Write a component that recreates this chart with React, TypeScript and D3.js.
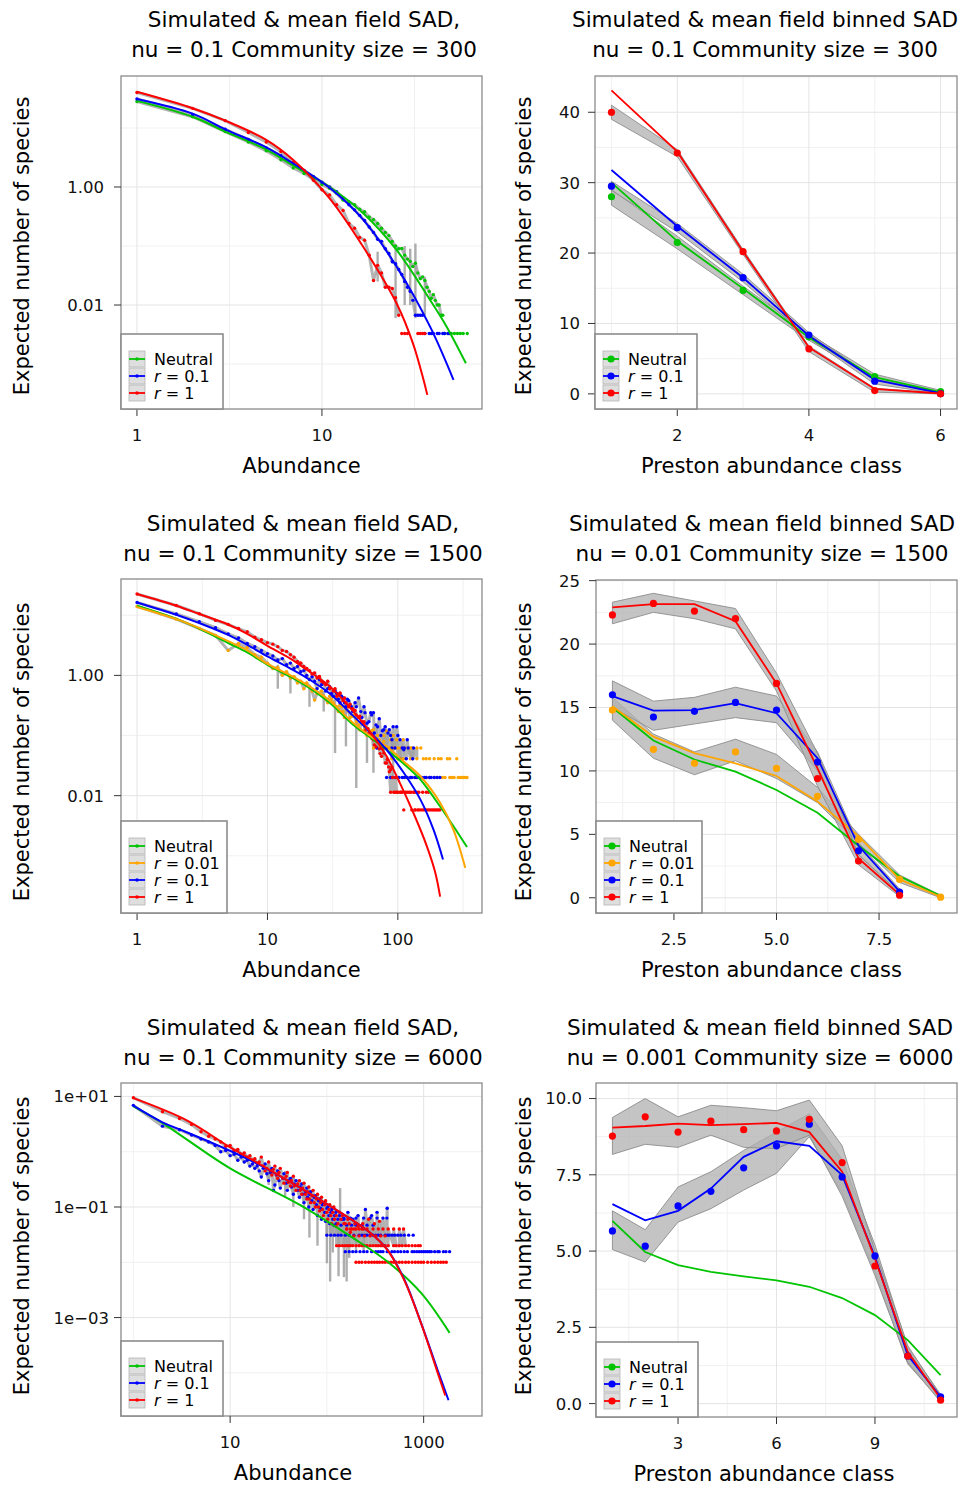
import React from 'react';
import * as d3 from 'd3';

type Pt = [number, number];

const FONT = "'DejaVu Sans', Verdana, sans-serif";
const GREEN = '#00c400';
const ORANGE = '#ffa500';
const BLUE = '#0000ff';
const RED = '#ff0000';

// ---------- A: SAD, nu = 0.1, community size 300 (log-log) ----------
const sadA_neutralMF: Pt[] = [[1, 28.8], [2, 15.5], [3, 8.7], [5, 4.3], [7, 2.3], [11, 1.0], [16.7, 0.36], [25.3, 0.086], [38.4, 0.0122], [47.2, 0.0043], [60, 0.00103]];
const sadA_r01MF: Pt[] = [[1, 31], [2, 17.5], [3, 9.5], [5, 4.7], [7, 2.5], [11, 0.97], [16.7, 0.28], [25.3, 0.045], [38.4, 0.0043], [51.4, 0.00054]];
const sadA_r1MF: Pt[] = [[1, 41], [2, 21.6], [3, 13.3], [5, 6.3], [7, 2.87], [11, 0.64], [16.7, 0.097], [25.3, 0.0107], [31.1, 0.0022], [35.4, 0.00054], [37.1, 0.0003]];
const sadA_neutralSim: Pt[] = [[1, 28], [2, 15.5], [3, 8.7], [4, 5.8], [5, 4.1], [6, 2.9], [7, 2.1], [8, 1.7], [9, 1.35], [10, 1.1], [11, 0.95], [12, 0.78], [13, 0.6], [14, 0.56], [15, 0.5], [16, 0.42], [17, 0.38], [18, 0.31], [19, 0.28], [20, 0.24], [21, 0.2], [22, 0.17], [23, 0.15], [24, 0.12], [25, 0.1], [26, 0.09], [27, 0.091], [28, 0.07], [29, 0.06], [30, 0.055], [31, 0.045], [32, 0.051], [33, 0.035], [34, 0.028], [35, 0.03], [36, 0.026], [37, 0.02], [38, 0.017], [39, 0.013], [40, 0.015], [41, 0.012], [42, 0.01], [43, 0.01], [44, 0.0067], [45, 0.0067], [46, 0.0033], [48, 0.0033], [50, 0.0033], [52, 0.0033], [54, 0.0033], [56, 0.0033], [58, 0.0033], [61, 0.0033]];
const sadA_r01Sim: Pt[] = [[1, 31], [2, 17], [3, 9.5], [4, 6.4], [5, 4.6], [6, 3.4], [7, 2.5], [8, 1.9], [9, 1.5], [10, 1.2], [11, 1.0], [12, 0.83], [13, 0.65], [14, 0.5], [15, 0.41], [16, 0.33], [17, 0.27], [18, 0.21], [19, 0.17], [20, 0.13], [21, 0.12], [22, 0.09], [23, 0.075], [24, 0.054], [25, 0.05], [26, 0.04], [27, 0.033], [28, 0.025], [29, 0.02], [30, 0.017], [31, 0.012], [32, 0.0067], [33, 0.0067], [34, 0.0067], [35, 0.0067], [36, 0.0033], [38, 0.0033], [39, 0.0033], [40, 0.0033], [42, 0.0033], [43, 0.0033], [45, 0.0033], [46, 0.0033], [48, 0.0033], [49, 0.0033]];
const sadA_r1Sim: Pt[] = [[1, 40], [2, 21.5], [3, 13.3], [4, 8.4], [5, 5.8], [6, 4.0], [7, 2.6], [8, 1.9], [9, 1.3], [10, 0.9], [11, 0.73], [12, 0.5], [13, 0.4], [14, 0.24], [15, 0.2], [16, 0.14], [17, 0.125], [18, 0.07], [19, 0.026], [20, 0.047], [21, 0.035], [22, 0.02], [23, 0.02], [24, 0.019], [25, 0.0133], [26, 0.0067], [27, 0.0033], [28, 0.0033], [29, 0.0033], [33, 0.0033], [34, 0.0033], [35, 0.0033], [36, 0.0033]];
const sadA_spikes: [number, number, number][] = [[20, 0.025, 0.08], [25, 0.006, 0.09], [28, 0.01, 0.1], [30, 0.01, 0.09], [32, 0.006, 0.11], [36, 0.0067, 0.03]];

// ---------- B: binned SAD, nu = 0.1, community size 300 ----------
const binB_class = [1, 2, 3, 4, 5, 6];
const binB_neutralMF = [30.0, 21.7, 14.95, 8.0, 2.36, 0.24];
const binB_neutralSim = [28.0, 21.5, 14.7, 8.1, 2.45, 0.33];
const binB_neutralLo = [26.8, 20.6, 14.1, 7.6, 2.1, 0.1];
const binB_neutralHi = [29.0, 22.4, 15.3, 8.5, 2.8, 0.5];
const binB_r01MF = [31.8, 23.8, 16.5, 8.25, 2.0, 0.1];
const binB_r01Sim = [29.5, 23.6, 16.5, 8.35, 1.8, 0.02];
const binB_r01Lo = [28.9, 23.0, 15.9, 7.9, 1.4, 0.0];
const binB_r01Hi = [30.2, 24.2, 17.0, 8.7, 2.1, 0.15];
const binB_r1MF = [43.1, 34.4, 20.2, 6.6, 0.7, 0.05];
const binB_r1Sim = [40.0, 34.2, 20.2, 6.4, 0.47, 0.0];
const binB_r1Lo = [39.0, 33.7, 19.8, 6.0, 0.24, 0.0];
const binB_r1Hi = [41.0, 34.7, 20.5, 6.8, 0.8, 0.1];

// ---------- C: SAD, nu = 0.1, community size 1500 (log-log) ----------
const sadC_neutralMF: Pt[] = [[1, 14.4], [2, 8.7], [3, 6.0], [5, 3.45], [7, 2.4], [10, 1.5], [15, 0.95], [20, 0.66], [30, 0.35], [45.7, 0.15], [65, 0.085], [82, 0.058], [111, 0.034], [149, 0.0185], [211, 0.0066], [267, 0.0031], [339, 0.0014]];
const sadC_r001MF: Pt[] = [[1, 13.7], [2, 8.6], [3, 6.1], [5, 3.7], [7, 2.6], [10, 1.55], [15, 1.0], [20, 0.7], [30, 0.38], [45.7, 0.16], [65, 0.09], [82, 0.066], [111, 0.037], [149, 0.021], [211, 0.0076], [267, 0.0027], [329, 0.00063]];
const sadC_r01MF: Pt[] = [[1, 16.3], [2, 10.2], [3, 7.4], [5, 4.7], [7, 3.2], [10, 2.07], [15, 1.3], [20, 0.91], [30, 0.5], [45.7, 0.21], [65, 0.1], [82, 0.058], [111, 0.024], [149, 0.0086], [188, 0.0027], [222, 0.00087]];
const sadC_r1MF: Pt[] = [[1, 22.5], [2, 14.4], [3, 10.5], [5, 7.0], [7, 4.9], [10, 3.1], [15, 1.9], [20, 1.24], [30, 0.66], [45.7, 0.25], [65, 0.097], [82, 0.045], [104, 0.016], [132, 0.0051], [167, 0.00144], [194, 0.00052], [211, 0.00021]];
const sadC_r001Sim: Pt[] = [[1, 14.0], [2, 8.6], [3, 6.0], [4, 4.6], [5, 2.6], [6, 3.4], [7, 2.9], [8, 2.2], [9, 2.0], [10, 1.6], [11, 1.3], [12, 1.35], [13, 1.0], [14, 1.15], [15, 0.9], [16, 0.95], [17, 0.75], [18, 0.8], [19, 0.6], [20, 0.75], [21, 0.65], [22, 0.55], [24, 0.5], [26, 0.55], [28, 0.4], [30, 0.45], [32, 0.35], [34, 0.3], [36, 0.32], [38, 0.25], [40, 0.28], [43, 0.2], [46, 0.22], [50, 0.15], [53, 0.17], [56, 0.13], [60, 0.1], [63, 0.12], [66, 0.09], [70, 0.1], [74, 0.062], [78, 0.08], [82, 0.062], [86, 0.062], [90, 0.041], [95, 0.062], [100, 0.041], [105, 0.062], [110, 0.041], [115, 0.02], [120, 0.062], [125, 0.041], [130, 0.041], [140, 0.02], [150, 0.062], [157, 0.041], [165, 0.02], [175, 0.041], [190, 0.02], [205, 0.041], [220, 0.02], [240, 0.041], [260, 0.02], [283, 0.041], [300, 0.02], [320, 0.02], [339, 0.02]];
const sadC_r001Extra: Pt[] = [[65, 0.062], [72, 0.062], [80, 0.062], [92, 0.062], [100, 0.062], [112, 0.062], [128, 0.062], [140, 0.062], [104, 0.041], [140, 0.041], [165, 0.041], [190, 0.041], [215, 0.041], [250, 0.041], [117, 0.02], [125, 0.02], [135, 0.02], [150, 0.02], [175, 0.02], [200, 0.02], [230, 0.02], [250, 0.02], [270, 0.02], [290, 0.02], [310, 0.02], [330, 0.02], [23, 0.39], [27, 0.45], [29, 0.35], [31, 0.4], [33, 0.31], [35, 0.25], [37, 0.3], [39, 0.2], [42, 0.25], [45, 0.21], [48, 0.17], [51, 0.125], [55, 0.16], [58, 0.1], [62, 0.11], [65, 0.125], [68, 0.08], [72, 0.085], [78, 0.1], [82, 0.118], [88, 0.085], [92, 0.1], [98, 0.085], [110, 0.085], [125, 0.062]];
const sadC_r01Sim: Pt[] = [[1, 16.3], [2, 10.5], [3, 7.8], [4, 6.2], [5, 4.9], [6, 4.2], [7, 3.4], [8, 3.0], [9, 2.6], [10, 2.3], [11, 2.1], [12, 1.8], [13, 1.9], [14, 1.5], [15, 1.6], [16, 1.3], [17, 1.4], [18, 1.15], [19, 1.2], [20, 1.0], [21, 0.85], [22, 0.95], [23, 0.8], [24, 0.6], [25, 0.85], [26, 0.7], [28, 0.55], [30, 0.65], [32, 0.45], [34, 0.5], [36, 0.35], [38, 0.42], [40, 0.3], [42, 0.38], [45, 0.25], [48, 0.3], [50, 0.42], [53, 0.2], [56, 0.24], [60, 0.17], [63, 0.22], [66, 0.11], [70, 0.14], [74, 0.1], [78, 0.125], [82, 0.062], [86, 0.125], [90, 0.085], [95, 0.062], [100, 0.1], [104, 0.041], [108, 0.062], [112, 0.02], [116, 0.041], [120, 0.062], [125, 0.02], [130, 0.041], [135, 0.02], [140, 0.02], [146, 0.02], [152, 0.02], [160, 0.02], [175, 0.02], [190, 0.02], [210, 0.02]];
const sadC_r01Extra: Pt[] = [[82, 0.02], [88, 0.02], [95, 0.02], [102, 0.02], [108, 0.02], [118, 0.02], [128, 0.02], [150, 0.02], [165, 0.02], [180, 0.02], [200, 0.02], [69, 0.062], [75, 0.062], [90, 0.062], [112, 0.062], [132, 0.062], [27, 0.75], [29, 0.6], [31, 0.5], [33, 0.55], [35, 0.4], [37, 0.45], [39, 0.35], [41, 0.4], [44, 0.3], [47, 0.35], [52, 0.25], [55, 0.3], [58, 0.16], [62, 0.24], [65, 0.24], [68, 0.15], [72, 0.19], [76, 0.12], [80, 0.14], [84, 0.11], [88, 0.1], [92, 0.14], [98, 0.14], [104, 0.085], [111, 0.058], [118, 0.085]];
const sadC_r1Sim: Pt[] = [[1, 22.5], [2, 14.5], [3, 10.6], [4, 8.2], [5, 7.0], [6, 6.0], [7, 5.3], [8, 4.3], [9, 3.9], [10, 3.5], [11, 3.3], [12, 3.0], [13, 2.6], [14, 2.5], [15, 2.2], [16, 2.0], [17, 1.7], [18, 1.6], [19, 1.4], [20, 1.3], [21, 1.2], [22, 1.05], [23, 1.1], [24, 0.9], [25, 0.95], [26, 0.8], [27, 0.75], [28, 0.7], [30, 0.6], [32, 0.55], [34, 0.45], [36, 0.5], [38, 0.38], [40, 0.35], [42, 0.3], [45, 0.28], [48, 0.22], [50, 0.2], [53, 0.17], [56, 0.12], [60, 0.11], [63, 0.09], [66, 0.07], [70, 0.08], [73, 0.05], [76, 0.06], [80, 0.035], [83, 0.04], [86, 0.025], [90, 0.03], [93, 0.0114], [96, 0.02], [100, 0.0114], [104, 0.0114], [108, 0.0114], [111, 0.0058], [114, 0.0114], [118, 0.0114], [122, 0.0114], [128, 0.0058], [132, 0.0114], [136, 0.0058], [140, 0.0114], [145, 0.0058], [150, 0.0058], [160, 0.0058], [170, 0.0058], [180, 0.0058], [190, 0.0058], [200, 0.0058], [210, 0.0058]];
const sadC_r1Extra: Pt[] = [[88, 0.0114], [98, 0.0114], [106, 0.0114], [126, 0.0114], [135, 0.0114], [145, 0.0114], [155, 0.0114], [165, 0.0114], [172, 0.0114], [135, 0.0058], [142, 0.0058], [155, 0.0058], [165, 0.0058], [175, 0.0058], [185, 0.0058], [195, 0.0058], [205, 0.0058], [18, 1.6], [25, 0.96], [29, 0.8], [33, 0.6], [36, 0.51], [39, 0.42], [43, 0.33], [47, 0.26], [51, 0.21], [55, 0.17], [59, 0.13], [62, 0.1], [65, 0.085], [68, 0.065], [72, 0.06], [75, 0.045], [78, 0.051], [82, 0.035], [85, 0.03], [88, 0.027], [91, 0.02], [95, 0.0114]];
const sadC_spikes: [number, number, number][] = [[12, 0.6, 1.5], [15, 0.5, 1.0], [21, 0.3, 0.7], [27, 0.25, 0.55], [33, 0.051, 0.4], [40, 0.066, 0.35], [48, 0.0134, 0.25], [58, 0.035, 0.16], [65, 0.024, 0.14], [69, 0.07, 0.15], [78, 0.045, 0.12], [92, 0.021, 0.09]];

// ---------- D: binned SAD, nu = 0.01, community size 1500 ----------
const binD_class = [1, 2, 3, 4, 5, 6, 7, 8, 9];
const binD_neutralMF = [15.0, 12.4, 10.9, 9.95, 8.5, 6.7, 4.1, 1.7, 0.15];
const binD_r001MF = [15.1, 12.7, 11.4, 10.6, 9.6, 7.6, 4.85, 1.45, 0.08];
const binD_r001Sim = [14.8, 11.7, 10.6, 11.5, 10.2, 8.0, 4.6, 1.45, 0.05];
const binD_r001Lo = [14.0, 11.0, 9.7, 10.8, 9.4, 7.5, 4.3, 1.2, 0.0];
const binD_r001Hi = [15.8, 12.9, 11.5, 12.5, 11.3, 8.7, 5.0, 1.8, 0.2];
const binD_r01MF = [15.9, 14.75, 14.8, 15.35, 14.55, 11.0, 4.1, 0.5];
const binD_r01Sim = [16.0, 14.25, 14.7, 15.4, 14.8, 10.7, 3.7, 0.45];
const binD_r01Lo = [15.0, 13.2, 13.7, 14.2, 13.8, 10.0, 3.4, 0.3];
const binD_r01Hi = [17.1, 15.5, 15.8, 16.6, 15.9, 11.5, 4.3, 0.7];
const binD_r1MF = [22.9, 23.15, 23.15, 21.8, 16.9, 10.2, 3.1, 0.25];
const binD_r1Sim = [22.3, 23.2, 22.6, 22.0, 16.9, 9.4, 2.9, 0.2];
const binD_r1Lo = [21.6, 22.5, 22.0, 21.2, 16.3, 8.8, 2.6, 0.1];
const binD_r1Hi = [23.3, 24.0, 23.4, 22.8, 17.7, 11.4, 3.4, 0.4];

// ---------- E: SAD, nu = 0.1, community size 6000 (log-log) ----------
const sadE_neutralMF: Pt[] = [[1, 6.6], [2, 3.3], [9.8, 0.51], [52, 0.11], [189, 0.027], [422, 0.0103], [940, 0.0028], [1855, 0.00053]];
const sadE_r01MF: Pt[] = [[1, 6.8], [2, 3.4], [3.45, 2.3], [17, 0.67], [85, 0.135], [282, 0.034], [422, 0.017], [628, 0.005], [940, 0.0008], [1400, 0.00011], [1808, 3.2e-5]];
const sadE_r1MF: Pt[] = [[1, 9.3], [3.45, 3.8], [10, 1.2], [17, 0.71], [85, 0.135], [282, 0.034], [422, 0.0168], [628, 0.0048], [940, 0.00079], [1372, 0.00011], [1672, 3.9e-5]];
const sadE_r01Sim: Pt[] = [[1, 6.9], [2, 2.9], [3, 2.5], [4, 2.0], [5, 1.7], [6, 1.5], [7, 1.3], [8, 1.0], [9, 1.05], [10, 0.85], [11, 0.9], [12, 0.7], [13, 0.8], [14, 0.65], [15, 0.7], [16, 0.55], [17, 0.6], [18, 0.5], [19, 0.55], [20, 0.45], [22, 0.5], [24, 0.4], [26, 0.42], [28, 0.2], [30, 0.38], [32, 0.3], [35, 0.33], [38, 0.27], [40, 0.3], [43, 0.23], [46, 0.26], [50, 0.2], [53, 0.23], [56, 0.17], [60, 0.19], [63, 0.15], [66, 0.17], [70, 0.13], [74, 0.15], [78, 0.11], [82, 0.13], [86, 0.095], [90, 0.11], [95, 0.08], [100, 0.095], [105, 0.07], [110, 0.08], [115, 0.06], [120, 0.07], [125, 0.05], [130, 0.06], [140, 0.047], [150, 0.06], [160, 0.047], [170, 0.031], [180, 0.047], [190, 0.031], [200, 0.047], [215, 0.031], [230, 0.047], [245, 0.031], [260, 0.047], [280, 0.031], [300, 0.047], [320, 0.031], [340, 0.0156], [360, 0.031], [380, 0.0156], [400, 0.031], [420, 0.095], [440, 0.031], [470, 0.0156], [500, 0.031], [540, 0.0156], [580, 0.031], [630, 0.0156], [700, 0.031], [760, 0.0156], [850, 0.0156], [950, 0.0156], [1050, 0.0156], [1150, 0.0156], [1300, 0.0156], [1450, 0.0156], [1600, 0.0156], [1855, 0.0156]];
const sadE_r01Extra: Pt[] = [[155, 0.0156], [170, 0.0156], [185, 0.0156], [200, 0.0156], [220, 0.0156], [240, 0.0156], [260, 0.0156], [290, 0.0156], [320, 0.0156], [360, 0.0156], [420, 0.0156], [500, 0.0156], [580, 0.0156], [680, 0.0156], [800, 0.0156], [900, 0.0156], [1000, 0.0156], [1100, 0.0156], [1200, 0.0156], [1400, 0.0156], [1700, 0.0156], [100, 0.031], [110, 0.031], [120, 0.031], [130, 0.031], [140, 0.031], [155, 0.031], [230, 0.031], [260, 0.031], [300, 0.031], [340, 0.031], [420, 0.031], [470, 0.031], [540, 0.031], [630, 0.031], [780, 0.031], [150, 0.063], [175, 0.063], [200, 0.063], [240, 0.063], [280, 0.063], [330, 0.063], [380, 0.063], [417, 0.063], [21, 0.35], [23, 0.6], [25, 0.3], [27, 0.5], [29, 0.25], [31, 0.45], [33, 0.22], [36, 0.4], [39, 0.2], [42, 0.33], [45, 0.17], [48, 0.3], [52, 0.15], [55, 0.26], [58, 0.12], [62, 0.22], [65, 0.1], [68, 0.19], [72, 0.09], [76, 0.16], [80, 0.07], [84, 0.14], [88, 0.06], [92, 0.12], [97, 0.055], [102, 0.1], [107, 0.05], [112, 0.09], [118, 0.047], [124, 0.08], [135, 0.07], [145, 0.06], [165, 0.08], [185, 0.06], [210, 0.07], [250, 0.09], [290, 0.07], [330, 0.08]];
const sadE_r1Sim: Pt[] = [[1, 9.5], [2, 5.3], [3, 4.0], [4, 3.1], [5, 2.3], [6, 1.9], [7, 1.7], [8, 1.5], [9, 1.25], [10, 1.3], [11, 1.05], [12, 1.1], [13, 0.9], [14, 0.95], [15, 0.8], [16, 0.85], [17, 0.7], [18, 0.75], [19, 0.62], [20, 0.65], [22, 0.55], [24, 0.5], [26, 0.45], [28, 0.48], [30, 0.38], [32, 0.42], [35, 0.33], [38, 0.36], [40, 0.28], [43, 0.3], [46, 0.24], [50, 0.26], [53, 0.2], [56, 0.22], [60, 0.17], [63, 0.19], [66, 0.14], [70, 0.16], [74, 0.12], [78, 0.14], [82, 0.1], [86, 0.12], [90, 0.09], [95, 0.11], [100, 0.08], [105, 0.09], [110, 0.07], [115, 0.08], [120, 0.06], [125, 0.07], [130, 0.05], [140, 0.06], [150, 0.05], [160, 0.04], [170, 0.05], [180, 0.04], [190, 0.03], [200, 0.04], [215, 0.03], [230, 0.04], [245, 0.03], [260, 0.02], [280, 0.03], [300, 0.02], [320, 0.03], [340, 0.02], [360, 0.03], [380, 0.02], [400, 0.03], [430, 0.02], [460, 0.01], [490, 0.02], [520, 0.01], [560, 0.02], [600, 0.01], [650, 0.02], [700, 0.01], [760, 0.02], [820, 0.01], [880, 0.02], [940, 0.01], [1000, 0.01], [1100, 0.01], [1200, 0.01], [1300, 0.01], [1400, 0.01], [1500, 0.01], [1600, 0.01], [1714, 0.01]];
const sadE_r1Extra: Pt[] = [[200, 0.01], [215, 0.01], [230, 0.01], [250, 0.01], [270, 0.01], [290, 0.01], [310, 0.01], [330, 0.01], [350, 0.01], [375, 0.01], [400, 0.01], [430, 0.01], [490, 0.01], [560, 0.01], [650, 0.01], [760, 0.01], [880, 0.01], [126, 0.02], [135, 0.02], [145, 0.02], [155, 0.02], [165, 0.02], [175, 0.02], [185, 0.02], [200, 0.02], [215, 0.02], [230, 0.02], [245, 0.02], [280, 0.02], [320, 0.02], [360, 0.02], [400, 0.02], [520, 0.02], [600, 0.02], [700, 0.02], [820, 0.02], [923, 0.02], [161, 0.04], [175, 0.04], [190, 0.04], [215, 0.04], [240, 0.04], [260, 0.04], [300, 0.04], [340, 0.04], [380, 0.04], [430, 0.04], [490, 0.04], [560, 0.04], [620, 0.04], [21, 0.8], [23, 0.45], [25, 0.65], [27, 0.38], [29, 0.55], [31, 0.33], [33, 0.5], [36, 0.27], [39, 0.42], [42, 0.24], [45, 0.36], [48, 0.2], [52, 0.3], [55, 0.17], [58, 0.27], [62, 0.14], [65, 0.23], [68, 0.12], [72, 0.2], [76, 0.1], [80, 0.17], [84, 0.085], [88, 0.15], [92, 0.07], [97, 0.13], [102, 0.06], [107, 0.11], [112, 0.05], [118, 0.1], [124, 0.045], [135, 0.08], [145, 0.07], [155, 0.05], [165, 0.06], [175, 0.035], [195, 0.05], [210, 0.045], [235, 0.05], [270, 0.06], [310, 0.05], [350, 0.055]];
const sadE_spikes: [number, number, number][] = [[25, 0.25, 0.6], [37, 0.15, 0.45], [45, 0.1, 0.35], [58, 0.06, 0.25], [66, 0.028, 0.2], [80, 0.02, 0.12], [100, 0.0096, 0.1], [108, 0.0045, 0.05], [115, 0.015, 0.08], [132, 0.0056, 0.06], [137, 0.03, 0.22], [150, 0.0054, 0.05], [160, 0.0045, 0.04], [170, 0.012, 0.05], [200, 0.015, 0.04], [240, 0.015, 0.035]];

// ---------- F: binned SAD, nu = 0.001, community size 6000 ----------
const binF_class = [1, 2, 3, 4, 5, 6, 7, 8, 9, 10, 11];
const binF_neutralMF = [5.99, 4.97, 4.54, 4.32, 4.17, 4.04, 3.83, 3.46, 2.9, 2.08, 0.93];
const binF_r01MF = [6.54, 6.01, 6.32, 7.05, 8.09, 8.6, 8.45, 7.49, 4.81, 1.58, 0.22];
const binF_r01Sim = [5.66, 5.16, 6.48, 6.96, 7.73, 8.45, 9.16, 7.43, 4.84, 1.56, 0.22];
const binF_r01Lo = [5.05, 4.64, 5.95, 6.39, 7.0, 7.55, 8.75, 6.9, 4.3, 1.3, 0.1];
const binF_r01Hi = [6.32, 5.7, 7.1, 7.6, 8.3, 8.9, 9.5, 8.0, 5.2, 1.85, 0.3];
const binF_r1MF = [9.05, 9.1, 9.18, 9.13, 9.16, 9.2, 8.9, 7.6, 4.75, 1.7, 0.16];
const binF_r1Sim = [8.77, 9.4, 8.9, 9.26, 8.98, 8.94, 9.32, 7.9, 4.51, 1.56, 0.11];
const binF_r1Lo = [8.17, 8.5, 8.4, 8.8, 8.4, 8.36, 8.8, 6.8, 4.2, 1.35, 0.05];
const binF_r1Hi = [9.38, 10.0, 9.4, 9.78, 9.7, 9.6, 9.95, 8.45, 5.0, 1.9, 0.25];

// ---------- shared frame ----------
interface PanelCfg {
  id: string;
  box: [number, number, number, number];
  xDomain: [number, number];
  yDomain: [number, number];
  xTicks: number[]; xTickText: string[];
  yTicks: number[]; yTickText: string[];
  xMinor: number[]; yMinor: number[];
  yTickGap: number;
  grayMaxX?: number;
  title: [string, string];
  titleX: number; titleY: number;
  xLabel: string; xLabelPos: [number, number];
  yLabelPos: [number, number];
}

interface LegendItem { color: string; r: string | null }

function Legend({ x0, y1, items, dot }: { x0: number; y1: number; items: LegendItem[]; dot: number }) {
  const step = 17;
  const h = 25 + step * (items.length - 1) + 16;
  const w = items.length === 4 ? 106 : 102;
  const top = y1 - h;
  return (
    <g>
      <rect x={x0} y={top} width={w} height={h} fill="#fff" stroke="#8c8c8c" strokeWidth={1.6} />
      {items.map((s, i) => {
        const cy = top + 25 + step * i;
        return (
          <g key={i}>
            <rect x={x0 + 8} y={cy - 8} width={16} height={16} fill="#dedede" stroke="#b4b4b4" strokeWidth={0.8} />
            <line x1={x0 + 8} x2={x0 + 24} y1={cy} y2={cy} stroke={s.color} strokeWidth={1.8} />
            <circle cx={x0 + 16} cy={cy} r={dot} fill={s.color} />
            <text x={x0 + 33} y={cy + 5.5} fontSize={16} fill="#000">
              {s.r === null ? 'Neutral' : <><tspan fontStyle="italic">r</tspan>{' = ' + s.r}</>}
            </text>
          </g>
        );
      })}
    </g>
  );
}

function Frame({ cfg, x, y, legend, children }: any) {
  const [x0, y0, x1, y1] = cfg.box;
  const inX = (v: number) => x(v) >= x0 && x(v) <= x1;
  const inY = (v: number) => y(v) >= y0 && y(v) <= y1;
  return (
    <g>
      <defs>
        <clipPath id={cfg.id}><rect x={x0} y={y0} width={x1 - x0} height={y1 - y0} /></clipPath>
      </defs>
      <rect x={x0} y={y0} width={x1 - x0} height={y1 - y0} fill="#fff" />
      {cfg.xMinor.filter(inX).map((v: number) => <line key={'xn' + v} x1={x(v)} x2={x(v)} y1={y0} y2={y1} stroke="#f1f1f1" />)}
      {cfg.yMinor.filter(inY).map((v: number) => <line key={'yn' + v} x1={x0} x2={x1} y1={y(v)} y2={y(v)} stroke="#f1f1f1" />)}
      {cfg.xTicks.map((v: number) => <line key={'xg' + v} x1={x(v)} x2={x(v)} y1={y0} y2={y1} stroke="#e4e4e4" />)}
      {cfg.yTicks.map((v: number) => <line key={'yg' + v} x1={x0} x2={x1} y1={y(v)} y2={y(v)} stroke="#e4e4e4" />)}
      <g clipPath={`url(#${cfg.id})`}>{children}</g>
      <rect x={x0} y={y0} width={x1 - x0} height={y1 - y0} fill="none" stroke="#8a8a8a" strokeWidth={1.3} />
      {cfg.xTicks.map((v: number, i: number) => (
        <g key={'xt' + v}>
          <line x1={x(v)} x2={x(v)} y1={y1} y2={y1 + 7} stroke="#333" />
          <text x={x(v)} y={y1 + 32} textAnchor="middle" fontSize={16.5} fill="#111">{cfg.xTickText[i]}</text>
        </g>
      ))}
      {cfg.yTicks.map((v: number, i: number) => (
        <g key={'yt' + v}>
          <line x1={x0 - 7} x2={x0} y1={y(v)} y2={y(v)} stroke="#333" />
          <text x={x0 - cfg.yTickGap} y={y(v)} dy="0.36em" textAnchor="end" fontSize={16.5} fill="#111">{cfg.yTickText[i]}</text>
        </g>
      ))}
      <text x={cfg.titleX} y={cfg.titleY} textAnchor="middle" fontSize={21.5} fill="#000">{cfg.title[0]}</text>
      <text x={cfg.titleX} y={cfg.titleY + 30} textAnchor="middle" fontSize={21.5} fill="#000">{cfg.title[1]}</text>
      <text x={cfg.xLabelPos[0]} y={cfg.xLabelPos[1]} textAnchor="middle" fontSize={21} fill="#000">{cfg.xLabel}</text>
      <text transform={`translate(${cfg.yLabelPos[0]},${cfg.yLabelPos[1]}) rotate(-90)`} textAnchor="middle" fontSize={21} fill="#000">Expected number of species</text>
      {legend}
    </g>
  );
}

interface LogSeries { color: string; r: string | null; mf: Pt[]; sim?: Pt[]; extra?: Pt[] }

function LogPanel({ cfg, series, spikes }: { cfg: PanelCfg; series: LogSeries[]; spikes: [number, number, number][] }) {
  const [x0, y0, x1, y1] = cfg.box;
  const x = d3.scaleLog().domain(cfg.xDomain).range([x0, x1]);
  const y = d3.scaleLog().domain(cfg.yDomain).range([y1, y0]);
  const smooth = d3.line<Pt>().x(d => x(d[0])).y(d => y(d[1])).curve(d3.curveCatmullRom.alpha(0.5));
  const straight = d3.line<Pt>().x(d => x(d[0])).y(d => y(d[1]));
  const maxX = cfg.grayMaxX ?? Infinity;
  return (
    <Frame cfg={cfg} x={x} y={y} legend={<Legend x0={x0} y1={y1} items={series} dot={1.8} />}>
      {series.filter(s => s.sim).map((s, i) => {
        const all = [...(s.sim as Pt[]), ...(s.extra || [])];
        const floor = d3.min(all, d => d[1]) as number;
        const pts = all.filter(d => d[1] > floor * 1.5 && d[0] <= maxX).sort((a, b) => a[0] - b[0]);
        return <path key={'g' + i} d={straight(pts) || ''} fill="none" stroke="#a0a0a0" strokeWidth={3} strokeOpacity={0.8} strokeLinejoin="round" />;
      })}
      {spikes.map((s, i) => (
        <line key={'sp' + i} x1={x(s[0])} x2={x(s[0])} y1={y(s[1])} y2={y(s[2])} stroke="#a0a0a0" strokeWidth={2.4} strokeOpacity={0.85} />
      ))}
      {series.map((s, i) => (
        <g key={'p' + i} fill={s.color}>
          {[...(s.sim || []), ...(s.extra || [])].map((d, j) => <circle key={j} cx={x(d[0])} cy={y(d[1])} r={1.7} />)}
        </g>
      ))}
      {series.map((s, i) => (
        <path key={'l' + i} d={smooth(s.mf) || ''} fill="none" stroke={s.color} strokeWidth={2} />
      ))}
    </Frame>
  );
}

interface BinSeries { color: string; r: string | null; mf: number[]; sim?: number[]; lo?: number[]; hi?: number[] }

function BinPanel({ cfg, cls, series }: { cfg: PanelCfg; cls: number[]; series: BinSeries[] }) {
  const [x0, , , y1] = cfg.box;
  const x = d3.scaleLinear().domain(cfg.xDomain).range([cfg.box[0], cfg.box[2]]);
  const y = d3.scaleLinear().domain(cfg.yDomain).range([cfg.box[3], cfg.box[1]]);
  const line = d3.line<number>().x((_, i) => x(cls[i])).y(d => y(d));
  return (
    <Frame cfg={cfg} x={x} y={y} legend={<Legend x0={x0} y1={y1} items={series} dot={3.6} />}>
      {series.filter(s => s.lo && s.hi).map((s, i) => {
        const hi = s.hi as number[];
        const band = d3.area<number>().x((_, j) => x(cls[j])).y0(d => y(d)).y1((_, j) => y(hi[j]));
        return <path key={'r' + i} d={band(s.lo as number[]) || ''} fill="#b0b0b0" fillOpacity={0.75} stroke="#8c8c8c" strokeWidth={0.9} />;
      })}
      {series.map((s, i) => (
        <path key={'l' + i} d={line(s.mf) || ''} fill="none" stroke={s.color} strokeWidth={1.8} />
      ))}
      {series.filter(s => s.sim).map((s, i) => (
        <g key={'p' + i} fill={s.color}>
          {(s.sim as number[]).map((v, j) => <circle key={j} cx={x(cls[j])} cy={y(v)} r={3.6} />)}
        </g>
      ))}
    </Frame>
  );
}

const titleSAD = 'Simulated & mean field SAD,';
const titleBin = 'Simulated & mean field binned SAD';

const cfgA: PanelCfg = {
  id: 'clipA', box: [121, 76, 482, 409], xDomain: [0.82, 73.3], yDomain: [1.73e-4, 76],
  xTicks: [1, 10], xTickText: ['1', '10'], yTicks: [1, 0.01], yTickText: ['1.00', '0.01'],
  xMinor: [Math.sqrt(10), Math.sqrt(1000)], yMinor: [10, 0.1, 0.001], yTickGap: 17,
  title: [titleSAD, 'nu = 0.1 Community size = 300'], titleX: 304, titleY: 27,
  xLabel: 'Abundance', xLabelPos: [301.5, 473], yLabelPos: [29, 246],
};
const cfgB: PanelCfg = {
  id: 'clipB', box: [595, 76, 957, 409], xDomain: [0.75, 6.25], yDomain: [-2.15, 45.15],
  xTicks: [2, 4, 6], xTickText: ['2', '4', '6'], yTicks: [0, 10, 20, 30, 40], yTickText: ['0', '10', '20', '30', '40'],
  xMinor: [1, 3, 5], yMinor: [5, 15, 25, 35, 45], yTickGap: 15,
  title: [titleBin, 'nu = 0.1 Community size = 300'], titleX: 765, titleY: 27,
  xLabel: 'Preston abundance class', xLabelPos: [771.5, 473], yLabelPos: [531, 246],
};
const cfgC: PanelCfg = {
  id: 'clipC', box: [121, 579, 482, 913], xDomain: [0.753, 442], yDomain: [1.12e-4, 40],
  xTicks: [1, 10, 100], xTickText: ['1', '10', '100'], yTicks: [1, 0.01], yTickText: ['1.00', '0.01'],
  xMinor: [Math.sqrt(10), Math.sqrt(1000), Math.sqrt(100000)], yMinor: [10, 0.1, 0.001], yTickGap: 17,
  grayMaxX: 140,
  title: [titleSAD, 'nu = 0.1 Community size = 1500'], titleX: 303, titleY: 531,
  xLabel: 'Abundance', xLabelPos: [301.5, 977], yLabelPos: [29, 752],
};
const cfgD: PanelCfg = {
  id: 'clipD', box: [596, 580, 957, 913], xDomain: [0.6, 9.4], yDomain: [-1.2, 25.05],
  xTicks: [2.5, 5, 7.5], xTickText: ['2.5', '5.0', '7.5'], yTicks: [0, 5, 10, 15, 20, 25], yTickText: ['0', '5', '10', '15', '20', '25'],
  xMinor: [1.25, 3.75, 6.25, 8.75], yMinor: [2.5, 7.5, 12.5, 17.5, 22.5], yTickGap: 16,
  title: [titleBin, 'nu = 0.01 Community size = 1500'], titleX: 762, titleY: 531,
  xLabel: 'Preston abundance class', xLabelPos: [771.5, 977], yLabelPos: [531, 752],
};
const cfgE: PanelCfg = {
  id: 'clipE', box: [121, 1083, 482, 1416], xDomain: [0.745, 4010], yDomain: [1.66e-5, 17.5],
  xTicks: [10, 1000], xTickText: ['10', '1000'], yTicks: [10, 0.1, 0.001], yTickText: ['1e+01', '1e\u221201', '1e\u221203'],
  xMinor: [1, 100], yMinor: [1, 0.01, 1e-4], yTickGap: 12,
  grayMaxX: 680,
  title: [titleSAD, 'nu = 0.1 Community size = 6000'], titleX: 303, titleY: 1035,
  xLabel: 'Abundance', xLabelPos: [293, 1480], yLabelPos: [29, 1246],
};
const cfgF: PanelCfg = {
  id: 'clipF', box: [596, 1083, 957, 1417], xDomain: [0.5, 11.5], yDomain: [-0.44, 10.51],
  xTicks: [3, 6, 9], xTickText: ['3', '6', '9'], yTicks: [0, 2.5, 5, 7.5, 10], yTickText: ['0.0', '2.5', '5.0', '7.5', '10.0'],
  xMinor: [1.5, 4.5, 7.5, 10.5], yMinor: [1.25, 3.75, 6.25, 8.75], yTickGap: 14,
  title: [titleBin, 'nu = 0.001 Community size = 6000'], titleX: 760, titleY: 1035,
  xLabel: 'Preston abundance class', xLabelPos: [764, 1481], yLabelPos: [531, 1246],
};

export default function App() {
  const seriesA: LogSeries[] = [
    { color: GREEN, r: null, mf: sadA_neutralMF, sim: sadA_neutralSim },
    { color: BLUE, r: '0.1', mf: sadA_r01MF, sim: sadA_r01Sim },
    { color: RED, r: '1', mf: sadA_r1MF, sim: sadA_r1Sim },
  ];
  const seriesB: BinSeries[] = [
    { color: GREEN, r: null, mf: binB_neutralMF, sim: binB_neutralSim, lo: binB_neutralLo, hi: binB_neutralHi },
    { color: BLUE, r: '0.1', mf: binB_r01MF, sim: binB_r01Sim, lo: binB_r01Lo, hi: binB_r01Hi },
    { color: RED, r: '1', mf: binB_r1MF, sim: binB_r1Sim, lo: binB_r1Lo, hi: binB_r1Hi },
  ];
  const seriesC: LogSeries[] = [
    { color: GREEN, r: null, mf: sadC_neutralMF },
    { color: ORANGE, r: '0.01', mf: sadC_r001MF, sim: sadC_r001Sim, extra: sadC_r001Extra },
    { color: BLUE, r: '0.1', mf: sadC_r01MF, sim: sadC_r01Sim, extra: sadC_r01Extra },
    { color: RED, r: '1', mf: sadC_r1MF, sim: sadC_r1Sim, extra: sadC_r1Extra },
  ];
  const seriesD: BinSeries[] = [
    { color: GREEN, r: null, mf: binD_neutralMF },
    { color: ORANGE, r: '0.01', mf: binD_r001MF, sim: binD_r001Sim, lo: binD_r001Lo, hi: binD_r001Hi },
    { color: BLUE, r: '0.1', mf: binD_r01MF, sim: binD_r01Sim, lo: binD_r01Lo, hi: binD_r01Hi },
    { color: RED, r: '1', mf: binD_r1MF, sim: binD_r1Sim, lo: binD_r1Lo, hi: binD_r1Hi },
  ];
  const seriesE: LogSeries[] = [
    { color: GREEN, r: null, mf: sadE_neutralMF },
    { color: BLUE, r: '0.1', mf: sadE_r01MF, sim: sadE_r01Sim, extra: sadE_r01Extra },
    { color: RED, r: '1', mf: sadE_r1MF, sim: sadE_r1Sim, extra: sadE_r1Extra },
  ];
  const seriesF: BinSeries[] = [
    { color: GREEN, r: null, mf: binF_neutralMF },
    { color: BLUE, r: '0.1', mf: binF_r01MF, sim: binF_r01Sim, lo: binF_r01Lo, hi: binF_r01Hi },
    { color: RED, r: '1', mf: binF_r1MF, sim: binF_r1Sim, lo: binF_r1Lo, hi: binF_r1Hi },
  ];
  return (
    <svg width={960} height={1487} style={{ position: 'absolute', left: 0, top: 0 }} fontFamily={FONT}>
      <rect width={960} height={1487} fill="#fff" />
      <LogPanel cfg={cfgA} series={seriesA} spikes={sadA_spikes} />
      <BinPanel cfg={cfgB} cls={binB_class} series={seriesB} />
      <LogPanel cfg={cfgC} series={seriesC} spikes={sadC_spikes} />
      <BinPanel cfg={cfgD} cls={binD_class} series={seriesD} />
      <LogPanel cfg={cfgE} series={seriesE} spikes={sadE_spikes} />
      <BinPanel cfg={cfgF} cls={binF_class} series={seriesF} />
    </svg>
  );
}
